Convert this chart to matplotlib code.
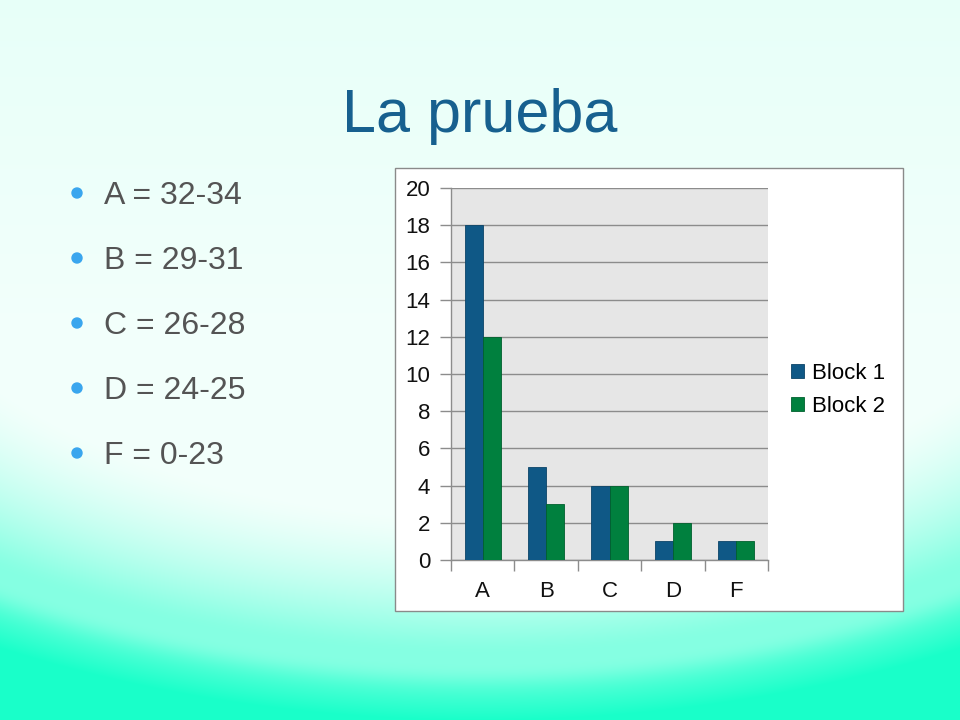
import numpy as np
import matplotlib
matplotlib.use('Agg')
import matplotlib.pyplot as plt
from matplotlib.patches import Rectangle, Circle
from matplotlib.ticker import FixedLocator, NullFormatter

plt.rcParams['font.family'] = ['Liberation Sans', 'DejaVu Sans']

# --- Data ---
categories = ['A', 'B', 'C', 'D', 'F']
block1 = [18, 5, 4, 1, 1]
block2 = [12, 3, 4, 2, 1]
series_names = ['Block 1', 'Block 2']
bullets = ['A = 32-34', 'B = 29-31', 'C = 26-28', 'D = 24-25', 'F = 0-23']
title = 'La prueba'

W, H = 960, 720
fig = plt.figure(figsize=(9.6, 7.2), dpi=100)

# --- Slide background: pale top fading into cyan with a soft arc ---
bg = fig.add_axes([0, 0, 1, 1], zorder=0)
yy, xx = np.mgrid[0:H, 0:W]
d = ((xx - 480) / 900.0) ** 2 + ((yy - 150) / 520.0) ** 2
t = np.clip((d - 0.5) / 0.7, 0, 1) ** 1.3
band = 0.12 * np.exp(-((d - 1.0) / 0.06) ** 2)
t = np.clip(t - band, 0, 1)
top_tint = 0.05 * np.clip(1 - yy / 320.0, 0, 1)
t = np.clip(t + top_tint, 0, 1)
white = np.array([0.95, 1.0, 0.985])
cyan = np.array([0.10, 1.0, 0.79])
img = white[None, None, :] * (1 - t[..., None]) + cyan[None, None, :] * t[..., None]
bg.imshow(img, extent=[0, W, H, 0], aspect='auto', interpolation='bilinear')
bg.set_xlim(0, W)
bg.set_ylim(H, 0)
bg.axis('off')

# Title
bg.text(480, 132, title, ha='center', va='baseline', fontsize=44, color='#17608f')

# Bullet list
for i, txt in enumerate(bullets):
    base = 204 + i * 65
    bg.add_patch(Circle((77, base - 11), 5, color='#3aa6ee', zorder=3))
    bg.text(104, base, txt, ha='left', va='baseline', fontsize=23, color='#545454')

# Chart frame
bg.add_patch(Rectangle((395, 168), 508, 443, facecolor='white', edgecolor='#8a8a8a',
                       linewidth=1, zorder=2))

# --- Bar chart ---
ax = fig.add_axes([451 / W, 1 - 560 / H, (768 - 451) / W, (560 - 188) / H], zorder=2)
x = np.arange(len(categories))
w = 0.286
ax.bar(x - w / 2, block1, w, color='#0f5886', edgecolor='#0b4468', linewidth=0.6,
       label=series_names[0], zorder=3)
ax.bar(x + w / 2, block2, w, color='#00803e', edgecolor='#00602e', linewidth=0.6,
       label=series_names[1], zorder=3)

ax.set_facecolor('#e6e6e6')
ax.set_xlim(-0.5, len(categories) - 0.5)
ax.set_ylim(0, 20)
ax.set_yticks(range(0, 21, 2))
ax.grid(axis='y', color='#8c8c8c', linewidth=1, zorder=1)
ax.set_axisbelow(True)

ax.set_xticks(x)
ax.set_xticklabels(categories)
ax.xaxis.set_minor_locator(FixedLocator(np.arange(-0.5, len(categories), 1.0)))
ax.xaxis.set_minor_formatter(NullFormatter())
ax.tick_params(axis='x', which='major', length=0, pad=15, labelsize=16, colors='#111111')
ax.tick_params(axis='x', which='minor', length=8, width=1, color='#8c8c8c', direction='out')
ax.tick_params(axis='y', length=8, width=1, color='#8c8c8c', pad=7, labelsize=16,
               labelcolor='#111111')

for s in ['top', 'right']:
    ax.spines[s].set_visible(False)
for s in ['left', 'bottom']:
    ax.spines[s].set_color('#8c8c8c')
    ax.spines[s].set_linewidth(1)

ax.legend(loc='center left', bbox_to_anchor=(771 / W, 1 - 390 / H),
          bbox_transform=fig.transFigure, frameon=False, fontsize=16,
          handlelength=0.6, handleheight=0.6, handletextpad=0.35, labelspacing=0.55)

fig.savefig('out.png', dpi=100)
